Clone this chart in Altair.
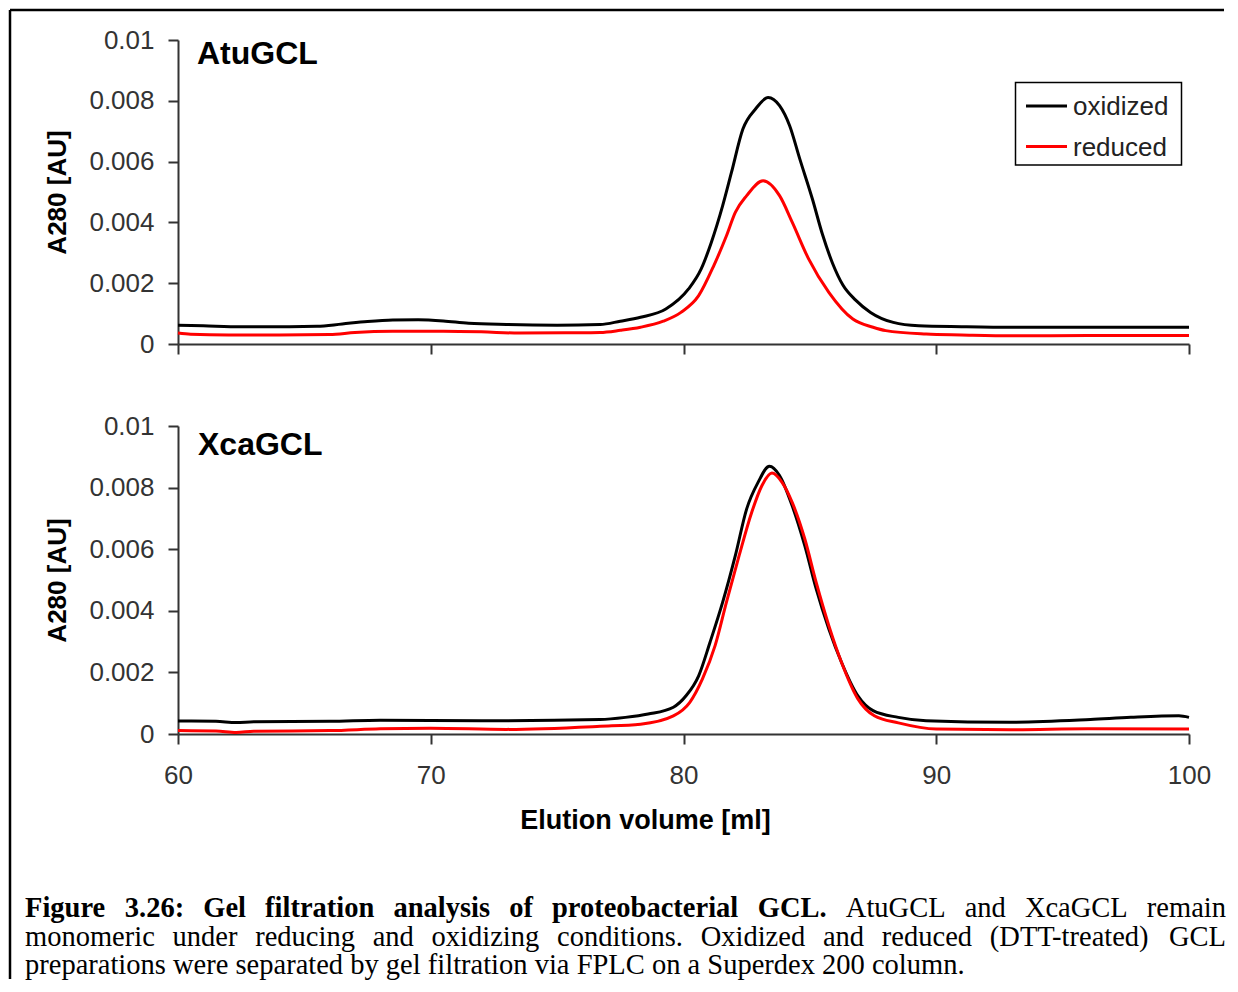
import altair as alt
import pandas as pd

# ---------------- data ----------------
series_names = ["oxidized", "reduced"]
series_colors = ["#000000", "#ff0000"]
panel_titles = ["AtuGCL", "XcaGCL"]
x_ticks = [60, 70, 80, 90, 100]
y_ticks = [0, 0.002, 0.004, 0.006, 0.008, 0.01]
x_title = "Elution volume [ml]"
y_title = "A280 [AU]"

atu_ox_x = [60.0, 61.0, 62.5, 64.0, 65.5, 66.5, 67.5, 68.5, 69.5, 70.5, 71.5, 73.0, 75.0, 76.7,
            77.5, 78.3, 79.3, 80.2, 80.7, 81.1, 81.55, 81.9, 82.35, 82.85, 83.35, 83.8, 84.2,
            84.6, 85.1, 85.5, 85.9, 86.3, 86.8, 87.4, 88.3, 89.3, 91.0, 93.0, 96.0, 98.0, 100.0]
atu_ox_y = [0.00062, 0.00060, 0.00057, 0.00057, 0.00058, 0.00066, 0.00074, 0.00079, 0.00080,
            0.00076, 0.00068, 0.00064, 0.00062, 0.00064, 0.00075, 0.00088, 0.00115, 0.00181,
            0.00247, 0.00334, 0.00455, 0.00565, 0.00707, 0.00773, 0.00811, 0.00784, 0.00718,
            0.00609, 0.00477, 0.00360, 0.00265, 0.00195, 0.00145, 0.00104, 0.00071, 0.00060,
            0.00057, 0.00055, 0.00055, 0.00055, 0.00055]

atu_red_x = [60.0, 60.5, 62.0, 64.0, 66.0, 67.0, 68.5, 70.5, 72.0, 73.5, 75.5, 76.7, 77.5, 78.3,
             79.2, 79.9, 80.6, 81.2, 81.7, 82.05, 82.5, 83.15, 83.8, 84.3, 84.95, 85.75, 86.7,
             87.5, 88.0, 89.6, 91.0, 93.0, 96.0, 100.0]
atu_red_y = [0.00036, 0.00032, 0.00030, 0.00030, 0.00031, 0.00038, 0.00042, 0.00042, 0.00040,
             0.00036, 0.00037, 0.00038, 0.00045, 0.00055, 0.00075, 0.00104, 0.00159, 0.00258,
             0.00356, 0.00433, 0.00488, 0.00537, 0.00488, 0.00401, 0.00280, 0.00170, 0.00082,
             0.00055, 0.00044, 0.00033, 0.00030, 0.00027, 0.00028, 0.00028]

xca_ox_x = [60.0, 61.5, 62.3, 63.0, 66.0, 68.0, 72.0, 76.7, 77.7, 78.6, 79.6, 80.1, 80.6, 81.05,
            81.55, 82.05, 82.5, 82.95, 83.4, 83.8, 84.3, 84.8, 85.25, 85.75, 86.25, 86.9, 87.5,
            88.5, 89.6, 92.9, 96.1, 97.7, 99.6, 100.0]
xca_ox_y = [0.00042, 0.00041, 0.00037, 0.00040, 0.00041, 0.00045, 0.00043, 0.00047, 0.00054,
            0.00065, 0.00087, 0.00124, 0.00189, 0.00298, 0.00428, 0.00579, 0.00731, 0.00817,
            0.00869, 0.00839, 0.00741, 0.00611, 0.00471, 0.00341, 0.00233, 0.00124, 0.00076,
            0.00054, 0.00043, 0.00038, 0.00047, 0.00054, 0.00059, 0.00054]

xca_red_x = [60.0, 61.5, 62.3, 63.0, 66.0, 68.0, 70.0, 73.0, 76.7, 78.3, 79.6, 80.25, 80.75,
             81.25, 81.7, 82.2, 82.7, 83.1, 83.5, 83.9, 84.3, 84.8, 85.25, 85.75, 86.25, 86.9,
             87.55, 88.5, 90.0, 93.0, 96.0, 100.0]
xca_red_y = [0.00011, 0.00010, 0.00005, 0.00009, 0.00011, 0.00017, 0.00019, 0.00015, 0.00025,
             0.00032, 0.00059, 0.00103, 0.00179, 0.00287, 0.00428, 0.00579, 0.00720, 0.00806,
             0.00847, 0.00817, 0.00752, 0.00633, 0.00492, 0.00352, 0.00233, 0.00114, 0.00059,
             0.00036, 0.00016, 0.00014, 0.00017, 0.00016]

caption_line1_bold = "Figure 3.26: Gel filtration analysis of proteobacterial GCL."
caption_line1_reg = "AtuGCL and XcaGCL remain"
caption_line2 = "monomeric under reducing and oxidizing conditions. Oxidized and reduced (DTT-treated) GCL"
caption_line3 = "preparations were separated by gel filtration via FPLC on a Superdex 200 column."

# ---------------- layout / style ----------------
W = 1011
H1, H2 = 304, 308
SANS = "Liberation Sans"
SERIF = "Liberation Serif"
FS = 26

# approximate Times advance widths (per 1000 em) used to justify the caption
REG = {' ': 250, '(': 333, ')': 333, '-': 333, '.': 250, ',': 250, ':': 278,
       'A': 722, 'C': 667, 'D': 722, 'F': 556, 'G': 722, 'L': 611, 'O': 722, 'P': 556,
       'S': 556, 'T': 611, 'X': 722,
       'a': 444, 'b': 500, 'c': 444, 'd': 500, 'e': 444, 'f': 333, 'g': 500, 'h': 500,
       'i': 278, 'k': 500, 'l': 278, 'm': 778, 'n': 500, 'o': 500, 'p': 500, 'r': 333,
       's': 389, 't': 278, 'u': 500, 'v': 500, 'w': 722, 'x': 500, 'y': 500, 'z': 444}
BOLD = {' ': 250, '.': 250, ':': 333, 'F': 611, 'G': 778, 'C': 722, 'L': 667,
        'a': 500, 'b': 556, 'c': 444, 'e': 444, 'f': 333, 'g': 500, 'i': 278, 'l': 278,
        'n': 556, 'o': 500, 'p': 556, 'r': 444, 's': 389, 't': 333, 'u': 556, 'y': 500}


def word_width(w, bold, size):
    table = BOLD if bold else REG
    return sum(table.get(c, 500) for c in w) / 1000.0 * size


CAP_SIZE = 28.5
CAP_X0, CAP_X1 = 25 - 178, 1226 - 178          # relative to the lower panel origin
CAP_Y = [918 - 427, 946.5 - 427, 975 - 427]


def layout(tokens, y, justify):
    widths = [word_width(w, b, CAP_SIZE) for w, b in tokens]
    if justify and len(tokens) > 1:
        gap = (CAP_X1 - CAP_X0 - sum(widths)) / (len(tokens) - 1)
    else:
        gap = 0.25 * CAP_SIZE
    rows, x = [], CAP_X0
    for (w, b), wd in zip(tokens, widths):
        rows.append({"word": w, "bold": b, "px": x, "py": y})
        x += wd + gap
    return rows


line1 = [(w, True) for w in caption_line1_bold.split()] + [(w, False) for w in caption_line1_reg.split()]
line2 = [(w, False) for w in caption_line2.split()]
line3 = [(w, False) for w in caption_line3.split()]
cap_rows = layout(line1, CAP_Y[0], True) + layout(line2, CAP_Y[1], True) + layout(line3, CAP_Y[2], False)
cap_df = pd.DataFrame(cap_rows)

one = pd.DataFrame({"a": [0]})

x_scale = alt.Scale(domain=[60, 100], nice=False, zero=False)
y_scale = alt.Scale(domain=[0, 0.01], nice=False)
color_scale = alt.Scale(domain=series_names, range=series_colors)


def y_axis():
    return alt.Axis(values=y_ticks, format="~g", title=y_title, grid=False, labelFlush=False,
                    labelFont=SANS, labelFontSize=FS, labelColor="#333333", labelPadding=14,
                    titleFont=SANS, titleFontSize=FS, titleFontWeight="bold", titleColor="black",
                    titlePadding=18, tickSize=10, tickWidth=2, tickColor="#333333",
                    domainWidth=2, domainColor="#333333")


def x_axis(show_labels):
    if show_labels:
        return alt.Axis(values=x_ticks, title=x_title, grid=False, labels=True, labelFlush=False,
                        labelFont=SANS, labelFontSize=FS, labelColor="#333333", labelPadding=18,
                        titleFont=SANS, titleFontSize=27, titleFontWeight="bold",
                        titleColor="black", titlePadding=19, titleX=467, titleAlign="center",
                        tickSize=10, tickWidth=2, tickColor="#333333",
                        domainWidth=2, domainColor="#333333")
    return alt.Axis(values=x_ticks, title=None, grid=False, labels=False,
                    tickSize=10, tickWidth=2, tickColor="#333333",
                    domainWidth=2, domainColor="#333333")


def series_layers(xs_list, ys_list, show_labels):
    layers = []
    for name, xs, ys in zip(series_names, xs_list, ys_list):
        df = pd.DataFrame({"v": xs, "a": ys, "series": name})
        layers.append(
            alt.Chart(df).mark_line(strokeWidth=3, interpolate="monotone").encode(
                x=alt.X("v:Q", scale=x_scale, axis=x_axis(show_labels)),
                y=alt.Y("a:Q", scale=y_scale, axis=y_axis()),
                color=alt.Color("series:N", scale=color_scale, legend=None),
            )
        )
    return alt.layer(*layers)


def panel_title(text, x, y):
    return alt.Chart(one).mark_text(font=SANS, fontSize=32, fontWeight="bold", color="black",
                                    align="left", baseline="alphabetic").encode(
        x=alt.value(x), y=alt.value(y), text=alt.value(text))


# frame around the figure (drawn from the top panel, outside its plot area)
frame_top = alt.Chart(one).mark_rule(color="black", strokeWidth=2.5).encode(
    x=alt.value(-168), x2=alt.value(1046), y=alt.value(-30))
frame_left = alt.Chart(one).mark_rule(color="black", strokeWidth=2.5).encode(
    x=alt.value(-168), y=alt.value(-30), y2=alt.value(939))

# legend box
legend_layers = [
    alt.Chart(one).mark_rect(fill="white", stroke="black", strokeWidth=1.5).encode(
        x=alt.value(837.5), x2=alt.value(1003.5), y=alt.value(42.5), y2=alt.value(125))
]
for i, (name, col) in enumerate(zip(series_names, series_colors)):
    yy = 66 + 40.5 * i
    legend_layers.append(
        alt.Chart(one).mark_rule(color=col, strokeWidth=3).encode(
            x=alt.value(848), x2=alt.value(889), y=alt.value(yy)))
    legend_layers.append(
        alt.Chart(one).mark_text(font=SANS, fontSize=FS, color="#222222", align="left",
                                 baseline="middle").encode(
            x=alt.value(895), y=alt.value(yy + 1), text=alt.value(name)))

top = alt.layer(
    series_layers([atu_ox_x, atu_red_x], [atu_ox_y, atu_red_y], False),
    panel_title(panel_titles[0], 19, 23.5),
    *legend_layers,
    frame_top, frame_left,
).properties(width=W, height=H1)

cap_bold = alt.Chart(cap_df).transform_filter("datum.bold").mark_text(
    font=SERIF, fontSize=CAP_SIZE, fontWeight="bold", color="black", align="left",
    baseline="alphabetic").encode(
    x=alt.X("px:Q", scale=None, axis=None), y=alt.Y("py:Q", scale=None, axis=None), text="word:N")
cap_reg = alt.Chart(cap_df).transform_filter("!datum.bold").mark_text(
    font=SERIF, fontSize=CAP_SIZE, color="black", align="left",
    baseline="alphabetic").encode(
    x=alt.X("px:Q", scale=None, axis=None), y=alt.Y("py:Q", scale=None, axis=None), text="word:N")

bottom = alt.layer(
    series_layers([xca_ox_x, xca_red_x], [xca_ox_y, xca_red_y], True),
    panel_title(panel_titles[1], 20, 29),
    alt.layer(cap_bold, cap_reg),
).resolve_scale(x="independent", y="independent").properties(width=W, height=H2)

chart = alt.vconcat(top, bottom, spacing=82, bounds="flush").properties(
    padding={"left": 0, "top": 0, "right": 0, "bottom": 2}, background="white"
).configure_view(stroke=None)

chart.save("out.html", embed_options={"renderer": "svg", "actions": False})
